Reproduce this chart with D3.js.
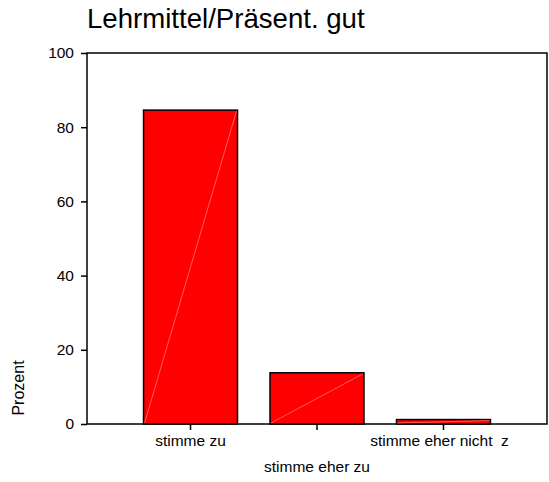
<!DOCTYPE html>
<html>
<head>
<meta charset="utf-8">
<script src="https://cdn.jsdelivr.net/npm/d3@7"></script>
<style>
  body { margin: 0; background: #fff; }
  text { font-family: "Liberation Sans", Arial, sans-serif; fill: #000; white-space: pre; }
</style>
</head>
<body>
<div id="chart"></div>
<script>
// values (percent)
var categories = ['stimme zu', 'stimme eher zu', 'stimme eher nicht  z'];
var percents = [84.6, 13.8, 1.2];
var yTicks = [0, 20, 40, 60, 80, 100];
var title = 'Lehrmittel/Präsent. gut';
var yTitle = 'Prozent';

var w = 549, h = 482;
// note: "top" is taken by window.top, so plot edges get own names
var plotL = 87, plotR = 547, plotT = 53, plotB = 424;

var svg = d3.select('#chart').append('svg')
  .attr('width', w).attr('height', h);

var x = d3.scaleBand()
  .domain(categories)
  .range([plotL, plotR])
  .paddingInner(0.257)
  .paddingOuter(0.447);

var y = d3.scaleLinear()
  .domain([0, 100])
  .range([plotB, plotT]);

// frame
svg.append('rect')
  .attr('x', plotL).attr('y', plotT)
  .attr('width', plotR - plotL).attr('height', plotB - plotT)
  .attr('fill', 'none').attr('stroke', '#000').attr('stroke-width', 1.5);

// bars
var bars = svg.append('g').selectAll('g')
  .data(percents)
  .join('g');

bars.append('rect')
  .attr('x', (d, i) => x(categories[i]))
  .attr('y', d => y(d))
  .attr('width', x.bandwidth())
  .attr('height', d => plotB - y(d))
  .attr('fill', '#ff0000')
  .attr('stroke', '#000')
  .attr('stroke-width', 1.5);

// faint diagonal on each bar
bars.append('line')
  .attr('x1', (d, i) => x(categories[i]) + 1)
  .attr('y1', plotB - 1)
  .attr('x2', (d, i) => x(categories[i]) + x.bandwidth() - 1)
  .attr('y2', d => y(d) + 1)
  .attr('stroke', '#ff9a9a')
  .attr('stroke-width', 0.6);

// y axis
var yAxis = svg.append('g')
  .attr('transform', 'translate(' + plotL + ',0)')
  .call(d3.axisLeft(y).tickValues(yTicks).tickSize(6).tickPadding(7));
yAxis.select('.domain').remove();
yAxis.selectAll('line').attr('stroke', '#000').attr('stroke-width', 1.5);
yAxis.selectAll('text').style('font-size', '15.5px').attr('font-family', null);

// x axis, labels staggered on two rows
var xAxis = svg.append('g')
  .attr('transform', 'translate(0,' + plotB + ')')
  .call(d3.axisBottom(x).tickSize(6).tickPadding(5));
xAxis.select('.domain').remove();
xAxis.selectAll('line').attr('stroke', '#000').attr('stroke-width', 1.5);
xAxis.selectAll('text')
  .style('font-size', '15.5px')
  .attr('font-family', null)
  .attr('dx', (d, i) => i == 2 ? -4 : 0)
  .attr('dy', (d, i) => i % 2 ? '2.39em' : '0.71em');

// title
svg.append('text')
  .attr('x', plotL).attr('y', 28)
  .style('font-size', '27.6px')
  .text(title);

// y title
svg.append('text')
  .attr('transform', 'translate(24,388) rotate(-90)')
  .attr('text-anchor', 'middle')
  .style('font-size', '16px')
  .text(yTitle);
</script>
</body>
</html>
